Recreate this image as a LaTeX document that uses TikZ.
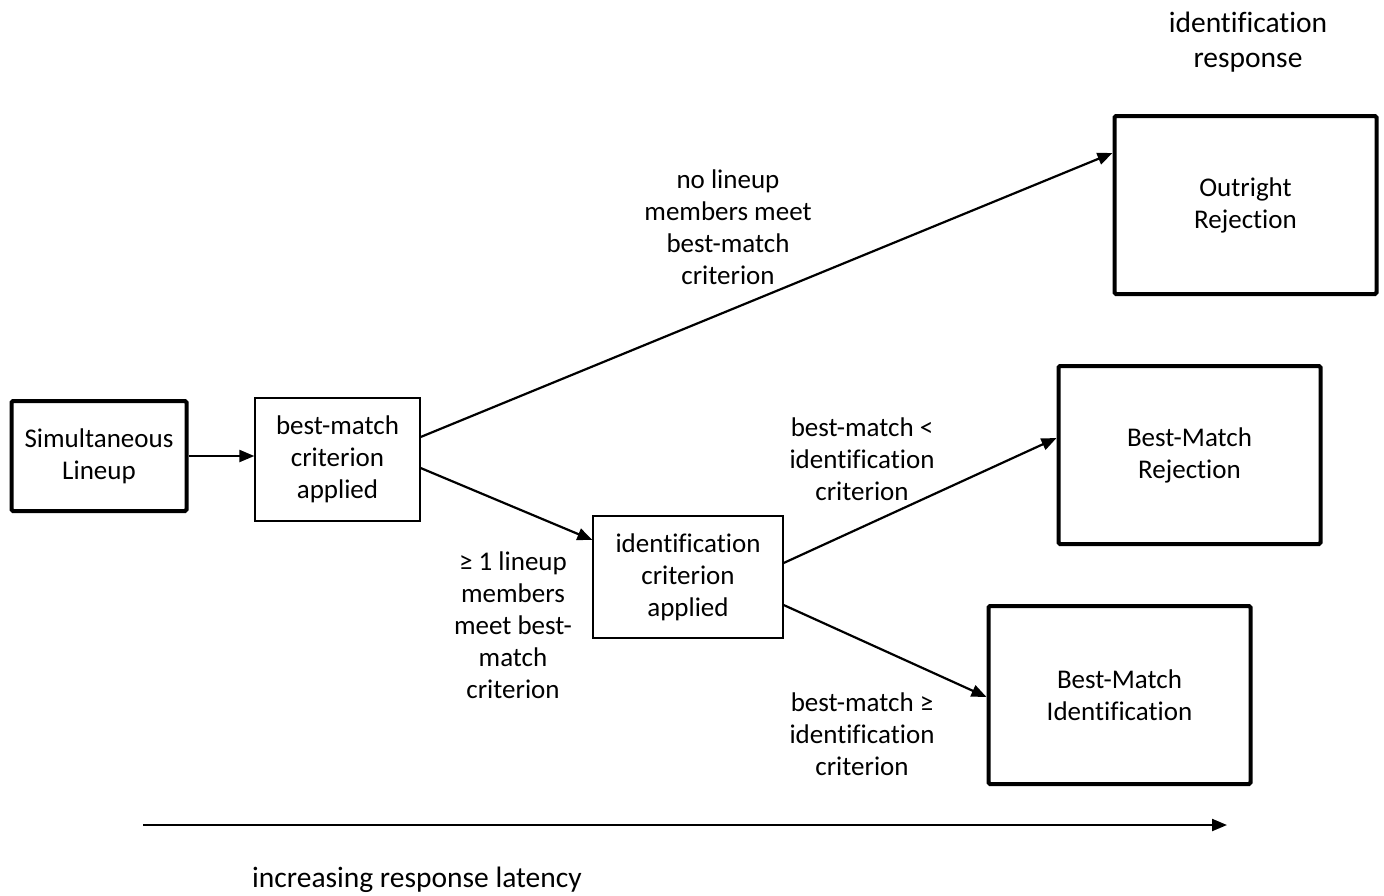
\documentclass[tikz,border=0pt]{standalone}
\usepackage{fontspec}
\setmainfont{Carlito}[Ligatures=NoCommon]
\usetikzlibrary{arrows.meta}

\begin{document}
\begin{tikzpicture}
    [x=1pt, y=-1pt,
    every node/.style={font=\fontsize{27}{32}\selectfont, align=center},
    big/.style={font=\fontsize{29.5}{34.5}\selectfont},
    stage/.style={draw, line width=1.3pt, inner sep=0pt},
    outcome/.style={draw, line width=4pt, rounded corners=1.5pt, inner sep=0pt, minimum width=262pt, minimum height=178pt},
    flow/.style={-{Triangle[length=15pt,width=12pt]}, line width=2.2pt},
    ]
    \useasboundingbox (0,0) rectangle (1384,895);
    \node[outcome, minimum width=175pt, minimum height=110pt] (sim) at (99,456) {Simultaneous\\Lineup};
    \node[stage, minimum width=165pt, minimum height=123pt] (bm) at (337.5,459.5) {best-match\\criterion\\applied};
    \node[stage, minimum width=190pt, minimum height=122pt] (idc) at (688,577) {identification\\criterion\\applied};
    \node[outcome] (rej) at (1245.5,205) {Outright\\Rejection};
    \node[outcome] (bmrej) at (1189.5,455) {Best-Match\\Rejection};
    \node[outcome] (bmid) at (1119.5,695) {Best-Match\\Identification};
    \node[big] (resp) at (1248,42) {identification\\response};

    \draw[flow] (sim.east) -- (sim.east -| bm.west);
    \draw[flow] ([yshift=22.5pt]bm.east) -- ([yshift=52pt]rej.west);
    \draw[flow] ([yshift=-8.5pt]bm.east) -- ([yshift=37pt]idc.west);
    \draw[flow] ([yshift=14pt]idc.east) -- ([yshift=17pt]bmrej.west);
    \draw[flow] ([yshift=-28pt]idc.east) -- ([yshift=-2pt]bmid.west);

    \node (nomeet) at (728,227) {no lineup\\members meet\\best-match\\criterion};
    \node (less) at (862,459) {best-match <\\identification\\criterion};
    \node (meet) at (513,625) {≥ 1 lineup\\members\\meet best-\\match\\criterion};
    \node (geq) at (862,734) {best-match ≥\\identification\\criterion};

    % time axis
    \coordinate (t0) at (143,825);
    \coordinate (t1) at (1227,825);
    \draw[flow] (t0) -- (t1);
    \node[big] (lat) at (417,880) {increasing response latency};
\end{tikzpicture}
\end{document}
